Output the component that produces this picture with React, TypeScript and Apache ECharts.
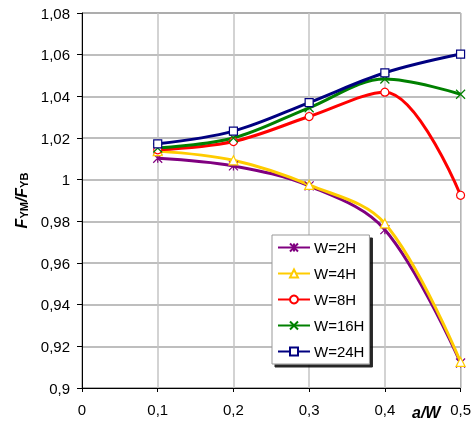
import React, { useEffect, useRef } from "react";
import * as echarts from "echarts";

const xValues = [0.1, 0.2, 0.3, 0.4, 0.5];
const w2H = [1.0103, 1.0066, 0.997, 0.976, 0.912];
const w4H = [1.0137, 1.0093, 0.9975, 0.979, 0.9125];
const w8H = [1.0143, 1.0183, 1.0303, 1.042, 0.9925];
const w16H = [1.0152, 1.02, 1.0345, 1.0483, 1.041];
const w24H = [1.0172, 1.0233, 1.037, 1.0513, 1.0603];
const seriesNames = ["W=2H", "W=4H", "W=8H", "W=16H", "W=24H"];

const FONT = "'Liberation Sans', Arial, sans-serif";

const fmt = (v: number) => String(Math.round(v * 100) / 100).replace(".", ",");

export default function App() {
  const ref = useRef<HTMLDivElement>(null);
  useEffect(() => {
    if (!ref.current) return;
    const chart = echarts.init(ref.current, undefined, { renderer: "svg" });
    const pts = (arr: number[]) => xValues.map((x, i) => [x, arr[i]]);
    const base = (name: string, data: number[], color: string, symbol: string, size: number, fill: string) => ({
      name,
      type: "line",
      data: pts(data),
      smooth: 0.35,
      symbol,
      symbolSize: size,
      showSymbol: true,
      lineStyle: { color, width: 3 },
      itemStyle: { color: fill, borderColor: color, borderWidth: 1.2 },
      emphasis: { disabled: true },
    });
    chart.setOption({
      animation: false,
      textStyle: { fontFamily: FONT },
      grid: { left: 82, right: 11, top: 13, bottom: 34, show: true, borderColor: "#7f7f7f", borderWidth: 1 },
      legend: {
        orient: "vertical",
        left: 272,
        top: 235,
        padding: [5, 5, 5, 5],
        itemGap: 11,
        itemWidth: 32,
        itemHeight: 10,
        backgroundColor: "#ffffff",
        borderColor: "#999999",
        borderWidth: 1,
        shadowColor: "rgba(0,0,0,0.85)",
        shadowBlur: 0,
        shadowOffsetX: 3,
        shadowOffsetY: 3,
        textStyle: { fontFamily: FONT, fontSize: 15, color: "#000", padding: [0, 0, 0, -1] },
        data: seriesNames,
      },
      xAxis: {
        type: "value",
        min: 0,
        max: 0.5,
        interval: 0.1,
        axisLine: { show: true, onZero: false, lineStyle: { color: "#000", width: 1 } },
        axisTick: { show: true, length: 4, lineStyle: { color: "#000" } },
        axisLabel: { formatter: fmt, fontSize: 15, color: "#000", margin: 14, fontFamily: FONT },
        splitLine: { show: true, lineStyle: { color: "#c4c4c4", width: 1.5 } },
      },
      yAxis: {
        type: "value",
        min: 0.9,
        max: 1.08,
        interval: 0.02,
        name: "{a|F}{b|YM}{a|/F}{b|YB}",
        nameLocation: "middle",
        nameRotate: 90,
        nameGap: 50,
        nameTextStyle: {
          rich: {
            a: { fontFamily: FONT, fontSize: 16, fontWeight: "bold", fontStyle: "italic", color: "#000" },
            b: { fontFamily: FONT, fontSize: 11, fontWeight: "bold", color: "#000", padding: [6, 0, 0, 0] },
          },
        },
        axisLine: { show: true, onZero: false, lineStyle: { color: "#000", width: 1 } },
        axisTick: { show: true, length: 5, lineStyle: { color: "#000" } },
        axisLabel: { formatter: fmt, fontSize: 15, color: "#000", margin: 12, fontFamily: FONT },
        splitLine: { show: true, lineStyle: { color: "#a8a8a8", width: 1.5 } },
      },
      graphic: [
        {
          type: "text",
          left: 412,
          top: 404,
          style: { text: "a/W", font: "italic bold 16px 'Liberation Sans', Arial, sans-serif", fill: "#000" },
        },
      ],
      series: [
        base(seriesNames[0], w2H, "#800080", "path://M0,0L10,10M10,0L0,10M5,0L5,10", 9, "none"),
        base(seriesNames[1], w4H, "#ffcc00", "triangle", 9, "#ffffff"),
        base(seriesNames[2], w8H, "#ff0000", "circle", 8, "#ffffff"),
        base(seriesNames[3], w16H, "#008000", "path://M0,0L10,10M10,0L0,10", 9, "none"),
        base(seriesNames[4], w24H, "#000080", "rect", 8, "#ffffff"),
      ],
    });
    return () => chart.dispose();
  }, []);
  return <div ref={ref} style={{ position: "fixed", left: 0, top: 0, width: 474, height: 422 }} />;
}
